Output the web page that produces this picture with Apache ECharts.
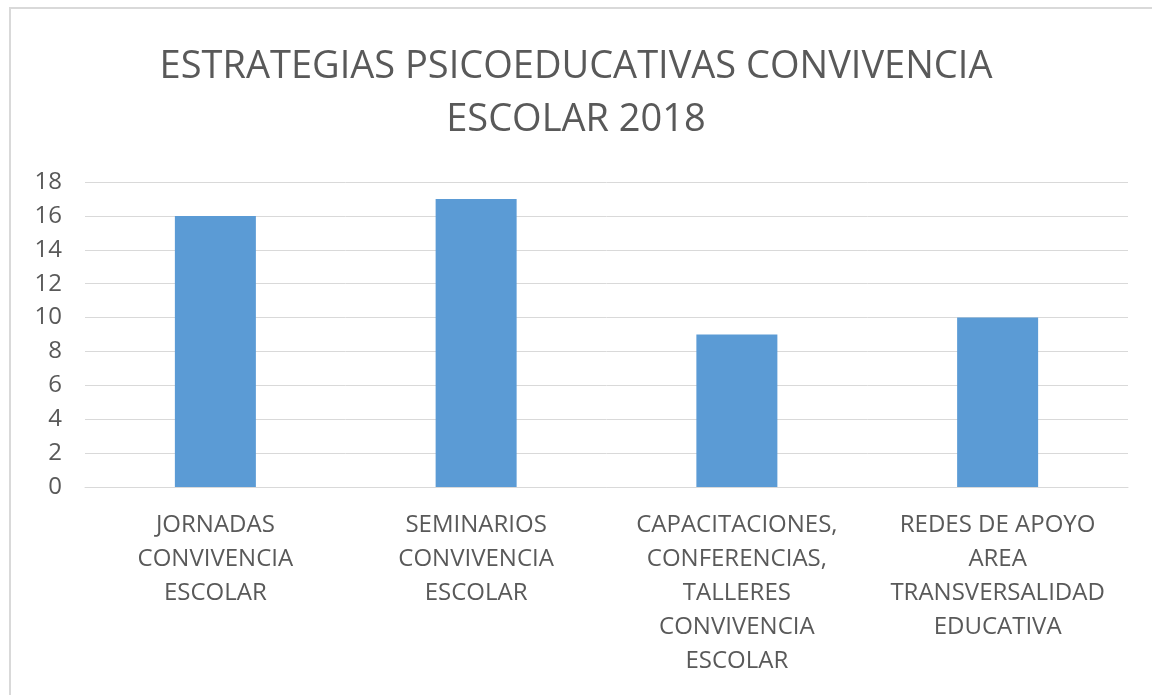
<!DOCTYPE html>
<html>
<head>
    <meta charset="utf-8"/>
    <title>Estrategias psicoeducativas</title>
    <script src="https://cdn.jsdelivr.net/npm/echarts@6/dist/echarts.min.js"></script>
    <style>
        body { margin: 0; background: #fff; overflow: hidden; }
        .frame { position: absolute; left: 9px; top: 7px; width: 1200px; height: 720px;
                 border-left: 2px solid #d9d9d9; border-top: 2px solid #d9d9d9; }
        #main { position: absolute; left: 0; top: 0; width: 1152px; height: 695px; }
    </style>
</head>
<body>
    <div class="frame"></div>
    <div id="main"></div>
    <script type="text/javascript">
        var titulo = 'ESTRATEGIAS PSICOEDUCATIVAS CONVIVENCIA\nESCOLAR 2018';
        var categorias = [
            'JORNADAS\nCONVIVENCIA\nESCOLAR',
            'SEMINARIOS\nCONVIVENCIA\nESCOLAR',
            'CAPACITACIONES,\nCONFERENCIAS,\nTALLERES\nCONVIVENCIA\nESCOLAR',
            'REDES DE APOYO\nAREA\nTRANSVERSALIDAD\nEDUCATIVA'
        ];
        var valores = [16, 17, 9, 10];

        var fuente = '"Open Sans", sans-serif';
        var myChart = echarts.init(document.getElementById('main'), null, { renderer: 'canvas' });

        var option = {
            backgroundColor: 'transparent',
            animation: false,
            title: {
                text: titulo,
                left: 'center',
                top: 36,
                textStyle: {
                    fontFamily: fuente,
                    fontSize: 38,
                    fontWeight: 'normal',
                    color: '#595959',
                    lineHeight: 53
                }
            },
            grid: {
                left: 85,
                right: 24,
                top: 182,
                bottom: 208
            },
            xAxis: {
                type: 'category',
                data: categorias,
                axisTick: { show: false },
                axisLine: { lineStyle: { color: '#d9d9d9', width: 1 } },
                axisLabel: {
                    interval: 0,
                    margin: 21,
                    fontFamily: fuente,
                    fontSize: 24,
                    lineHeight: 34,
                    color: '#595959'
                }
            },
            yAxis: {
                type: 'value',
                min: 0,
                max: 18,
                interval: 2,
                axisLine: { show: false },
                axisTick: { show: false },
                splitLine: { lineStyle: { color: '#d9d9d9', width: 1 } },
                axisLabel: {
                    margin: 23,
                    fontFamily: fuente,
                    fontSize: 24,
                    color: '#595959'
                }
            },
            series: [{
                type: 'bar',
                data: valores,
                barWidth: 81,
                itemStyle: { color: '#5b9bd5' }
            }]
        };

        myChart.setOption(option);
    </script>
</body>
</html>
